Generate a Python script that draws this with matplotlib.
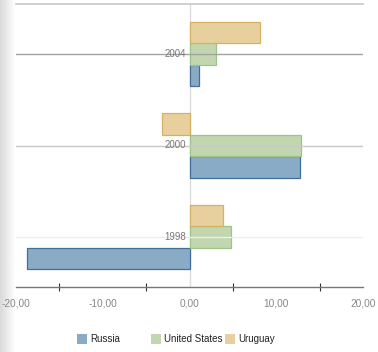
import numpy as np
import matplotlib
matplotlib.use("Agg")
import matplotlib.pyplot as plt
from matplotlib.patches import Rectangle

plt.rcParams['font.family'] = ['Liberation Sans', 'DejaVu Sans']

categories = ["1998", "2000", "2004"]
series = ["Russia", "United States", "Uruguay"]
russia = [-18.75, 12.75, 1.1]
united_states = [4.8, 12.9, 3.0]
uruguay = [3.9, -3.2, 8.15]
values = [russia, united_states, uruguay]
x_ticks = [-20, -10, 0, 10, 20]
x_tick_labels = ["-20,00", "-10,00", "0,00", "10,00", "20,00"]

fills = ["#8aabc6", "#c2d7b0", "#e8d09e"]
edges = ["#3f6f9a", "#9cc388", "#d6b063"]

W, H = 378, 352
fig = plt.figure(figsize=(W / 100, H / 100), dpi=100)

# left shadow gradient
gax = fig.add_axes([0, 0, 15 / W, 1])
grad = np.linspace(0, 1, 64).reshape(1, -1)
gax.imshow(grad, aspect='auto', cmap=matplotlib.colors.LinearSegmentedColormap.from_list(
    "g", ["#d9d9d9", "#ffffff"]), extent=[0, 1, 0, 1])
gax.axis('off')

ax = fig.add_axes([16 / W, 65 / H, 347 / W, 283 / H])
ax.set_xlim(-20, 20)
ax.set_ylim(-0.546, 2.546)

ypos = np.arange(len(categories))
h = 0.235
offsets = [-h, 0, h]
for i, (vals, fc, ec) in enumerate(zip(values, fills, edges)):
    ax.barh(ypos + offsets[i], vals, height=h, color=fc, edgecolor=ec,
            linewidth=0.9, zorder=2, label=series[i])

# gridlines
grid_colors = {0: "#eeeeee", 1: "#c8c8c8", 2: "#a3a3a3"}
for y, c in grid_colors.items():
    ax.axhline(y, color=c, lw=1.0, zorder=3)
ax.axhline(2.546, color="#c8c8c8", lw=1.2, zorder=3, clip_on=False)
ax.axvline(0, color="#dddddd", lw=1.0, zorder=1)

for y, lab in zip(ypos, categories):
    ax.text(-0.45, y, lab, ha='right', va='center', fontsize=7, color="#777777", zorder=4)

for s in ['top', 'right', 'left']:
    ax.spines[s].set_visible(False)
ax.spines['bottom'].set_color("#777777")
ax.spines['bottom'].set_linewidth(1.0)
ax.set_yticks([])
ax.set_xticks(x_ticks)
ax.set_xticklabels(x_tick_labels)
ax.tick_params(axis='x', length=0, pad=8, labelsize=7.3, labelcolor="#888888")
ax.set_xticks([-15, -5, 5, 15], minor=True)
ax.tick_params(axis='x', which='minor', length=6, direction='inout', color="#333333", width=0.8)

# legend (manual placement)
leg_x = [77, 151, 225]
for i in range(3):
    fig.patches.append(Rectangle((leg_x[i] / W, (H - 344) / H), 10 / W, 10 / H,
                                 transform=fig.transFigure, facecolor=fills[i],
                                 edgecolor='none'))
    fig.text((leg_x[i] + 13) / W, (H - 339) / H, series[i], ha='left', va='center',
             fontsize=7, color="#222222")

fig.savefig("out.png", dpi=100)
